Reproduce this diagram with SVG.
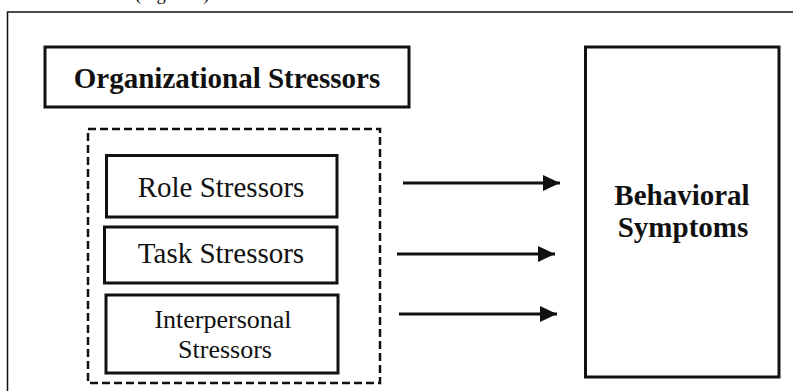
<svg xmlns="http://www.w3.org/2000/svg" width="793" height="391" viewBox="0 0 793 391">
<style>
.box{fill:#fff;stroke:#111;stroke-width:3}
.t{font-family:"Liberation Serif","Times New Roman",serif;fill:#111;text-anchor:middle}
.b{font-weight:bold}
.arr{stroke:#111;stroke-width:3;fill:none}
</style>
<defs>
<marker id="ah" markerUnits="userSpaceOnUse" markerWidth="18" markerHeight="18" refX="17" refY="8" orient="auto">
<path d="M0,0 L17,8 L0,16 Z" fill="#111"/>
</marker>
</defs>
<rect width="793" height="391" fill="#fff"/>
<text class="t" x="135" y="0" font-size="18.5" style="text-anchor:start">(Figure 2)</text>
<rect x="7.5" y="12" width="820" height="420" fill="none" stroke="#111" stroke-width="1.5"/>
<g id="org">
<rect class="box" x="45" y="47" width="364" height="60"/>
<text class="t b" x="227" y="88" font-size="29">Organizational Stressors</text>
</g>
<g id="group">
<rect x="88" y="129" width="292" height="254" fill="none" stroke="#111" stroke-width="2.5" stroke-dasharray="8 4"/>
</g>
<g id="role">
<rect class="box" x="106.5" y="155.5" width="230.5" height="61.5"/>
<text class="t" x="221" y="196.5" font-size="29">Role Stressors</text>
</g>
<g id="task">
<rect class="box" x="104.5" y="227" width="232.5" height="56"/>
<text class="t" x="221" y="263" font-size="29">Task Stressors</text>
</g>
<g id="inter">
<rect class="box" x="106" y="295" width="232" height="78"/>
<text class="t" x="223" y="328" font-size="26">Interpersonal</text>
<text class="t" x="225" y="358" font-size="26">Stressors</text>
</g>
<g id="behav">
<rect class="box" x="585.5" y="47" width="193.5" height="330"/>
<text class="t b" x="682" y="205" font-size="29">Behavioral</text>
<text class="t b" x="683" y="237" font-size="29">Symptoms</text>
</g>
<g id="connectors">
<line class="arr" x1="403" y1="183" x2="560" y2="183" marker-end="url(#ah)"/>
<line class="arr" x1="397" y1="254" x2="555" y2="254" marker-end="url(#ah)"/>
<line class="arr" x1="399" y1="314" x2="557" y2="314" marker-end="url(#ah)"/>
</g>
</svg>
